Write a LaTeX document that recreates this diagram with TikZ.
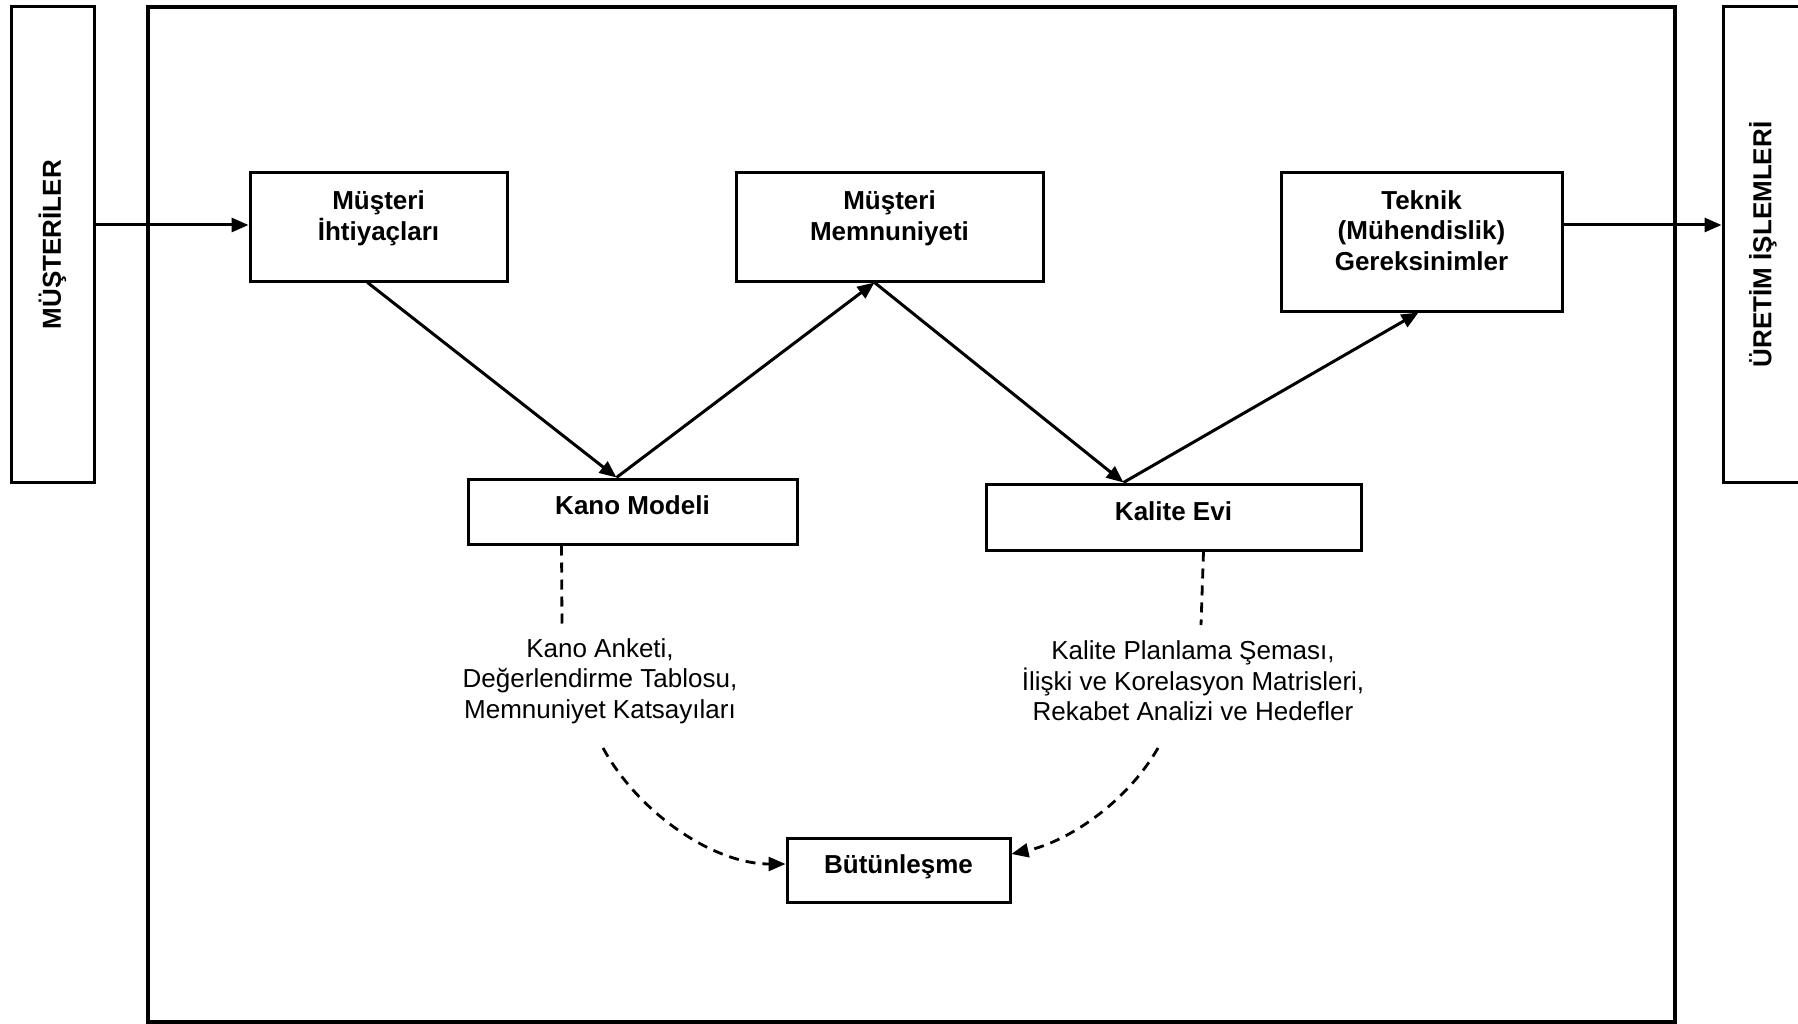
\documentclass[tikz,border=0pt]{standalone}
\usepackage{fontspec}
\setmainfont{Liberation Sans}
\usepackage{graphicx}
\usetikzlibrary{arrows.meta}
\begin{document}
\begin{tikzpicture}[x=1pt,y=-1pt,
  txt/.style={font=\fontsize{26}{30.5}\selectfont},
  box/.style={draw, line width=3pt, rectangle, inner sep=0pt, align=center,
              font=\fontsize{26}{30.5}\selectfont\bfseries},
  onebox/.style={box, text depth=12pt},
  multibox/.style={box, text depth=23pt},
  sidebox/.style={draw, line width=3pt, rectangle, inner sep=0pt,
              font=\fontsize{26}{30.5}\selectfont\bfseries},
  note/.style={txt, align=center, inner sep=0pt},
  flow/.style={line width=3pt, -{Triangle[length=17pt,width=14pt]}},
  link/.style={line width=2.8pt, dash pattern=on 10pt off 7pt},
  dlink/.style={link, -{Triangle[length=17pt,width=14pt]}},
]
% canvas
\useasboundingbox (0,0) rectangle (1798,1024);
\fill[white] (0,0) rectangle (1798,1024);
\clip (0,0) rectangle (1798,1024);

% outer frame
\draw[line width=3.3pt] (148,7) rectangle (1675,1022);

% side blocks
\node[sidebox, minimum width=83pt, minimum height=475pt] (musteriler) at (52.5,244.5)
  {\rotatebox{90}{MÜŞTERİLER}};
\node[sidebox, minimum width=80pt, minimum height=475pt] (uretim) at (1763,244.5)
  {\rotatebox{90}{ÜRETİM İŞLEMLERİ}};

% main blocks
\node[multibox, minimum width=257pt, minimum height=108pt] (ihtiyac) at (378.5,227)
  {Müşteri\\İhtiyaçları};
\node[multibox, minimum width=307pt, minimum height=108pt] (memnun) at (889.5,227)
  {Müşteri\\Memnuniyeti};
\node[multibox, minimum width=281pt, minimum height=138pt] (teknik) at (1421.5,242)
  {Teknik\\(Mühendislik)\\Gereksinimler};
\node[onebox, minimum width=329pt, minimum height=65pt] (kano) at (632.5,511.5)
  {Kano Modeli};
\node[onebox, minimum width=375pt, minimum height=66pt] (kalite) at (1173.5,517)
  {Kalite Evi};
\node[onebox, minimum width=223pt, minimum height=64pt] (butun) at (898.5,870)
  {Bütünleşme};

% descriptive notes
\node[note] (kanonot) at (600,681)
  {Kano Anketi,\\Değerlendirme Tablosu,\\Memnuniyet Katsayıları};
\node[note] (kalitenot) at (1193,681)
  {Kalite Planlama Şeması,\\İlişki ve Korelasyon Matrisleri,\\Rekabet Analizi ve Hedefler};

% input and output
\coordinate (inpt) at ([yshift=2pt]ihtiyac.west);
\draw[flow] (musteriler.east |- inpt) -- (inpt);
\coordinate (outpt) at ([yshift=17pt]teknik.east);
\draw[flow] (outpt) -- (outpt -| uretim.west);

% zig-zag flow
\coordinate (ih-s) at ([xshift=-11pt]ihtiyac.south);
\coordinate (ka-n) at ([xshift=-16pt]kano.north);
\coordinate (me-s) at ([xshift=-15pt]memnun.south);
\coordinate (kl-n) at ([xshift=-50pt]kalite.north);
\coordinate (te-s) at ([xshift=-3pt]teknik.south);
\draw[flow] (ih-s) -- (ka-n);
\draw[flow] (ka-n) -- (me-s);
\draw[flow] (me-s) -- (kl-n);
\draw[flow] (kl-n) -- (te-s);

% dashed links into integration
\coordinate (ka-s) at ([xshift=-71pt]kano.south);
\coordinate (ka-e) at (562,625);
\draw[link] (ka-s) -- (ka-e);
\coordinate (kn-s) at (603,748);
\draw[dlink] (kn-s) .. controls (640,815) and (715,864) .. ([yshift=6pt]butun.west);

\coordinate (kl-s) at ([xshift=30pt]kalite.south);
\coordinate (kl-e) at (1201,625);
\draw[link] (kl-s) -- (kl-e);
\coordinate (kq-s) at (1158,748);
\draw[dlink] (kq-s) .. controls (1125,805) and (1066,842) .. ([yshift=16pt]butun.east);
\end{tikzpicture}
\end{document}
